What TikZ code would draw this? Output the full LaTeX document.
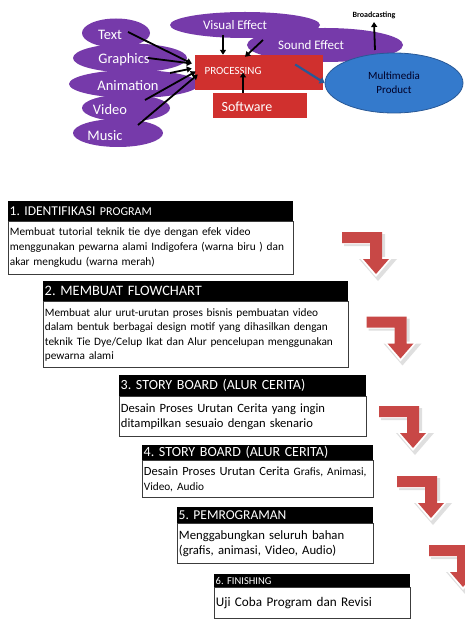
\documentclass[tikz,border=0pt]{standalone}
\usepackage{fontspec}
\setmainfont{Carlito}
\usetikzlibrary{shapes.geometric,arrows.meta,calc}
\frenchspacing
\definecolor{purp}{RGB}{118,58,170}
\definecolor{redbox}{RGB}{208,48,46}
\definecolor{blueell}{RGB}{52,122,204}
\definecolor{blueline}{RGB}{40,88,150}
\definecolor{arrred}{RGB}{200,72,70}
\definecolor{boxline}{RGB}{60,60,60}
\tikzset{
  pell/.style={ellipse, fill=purp, inner sep=0pt, text=white},
  rbox/.style={rectangle, fill=redbox, inner sep=0pt, text=white},
  blk/.style={line width=1.8pt, black, -{Triangle[length=5pt,width=6pt]}},
  hdr/.style={rectangle, fill=black, text=white, anchor=north west, inner xsep=1.5pt, inner ysep=0pt, align=left},
  bodybox/.style={rectangle, draw=boxline, line width=0.8pt, fill=white, anchor=north west, inner xsep=1.5pt, inner ysep=0pt, align=left},
  pics/bentarrow/.style={code={
    \fill[gray!25] (2,2) -- (43,2) -- (43,27) -- (55,27) -- (36,49) -- (17,27) -- (30,27) -- (30,14) -- (2,14) -- cycle;
    \fill[white] (0,0) -- (40,0) -- (40,25) -- (51,25) -- (34,45) -- (17,25) -- (28,25) -- (28,12) -- (0,12) -- cycle;
    \fill[arrred] (0,0) -- (40,0) -- (40,27) -- (47,27) -- (34,42) -- (21,27) -- (28,27) -- (28,11) -- (0,11) -- cycle;
  }}
}
\begin{document}
\begin{tikzpicture}[x=1pt,y=-1pt]
\useasboundingbox (0,0) rectangle (465,620);
% ---- top diagram ----
\node[pell, minimum width=150, minimum height=26, label={[text=white,font=\fontsize{13}{13}\selectfont,xshift=-10pt]center:Visual Effect}] (vis) at (245,25) {};
\node[pell, minimum width=156, minimum height=34, label={[text=white,font=\fontsize{13}{13}\selectfont,xshift=-14pt]center:Sound Effect}] (snd) at (325,45) {};
\node[pell, minimum width=68, minimum height=29, label={[text=white,font=\fontsize{14.5}{14.5}\selectfont,xshift=-6pt,yshift=-2pt]center:Text}] (txt) at (116,33) {};
\node[pell, minimum width=114, minimum height=29, label={[text=white,font=\fontsize{14.5}{14.5}\selectfont,xshift=-6pt,yshift=-2pt]center:Graphics}] (gra) at (130,58) {};
\node[pell, minimum width=130, minimum height=28, label={[text=white,font=\fontsize{14.5}{14.5}\selectfont,xshift=-6pt,yshift=-2pt]center:Animation}] (ani) at (134,84) {};
\node[pell, minimum width=88, minimum height=27, label={[text=white,font=\fontsize{14.5}{14.5}\selectfont,xshift=-16pt,yshift=-2pt]center:Video}] (vid) at (126,108) {};
\node[pell, minimum width=90, minimum height=28, label={[text=white,font=\fontsize{14.5}{14.5}\selectfont,xshift=-13pt,yshift=-3pt]center:Music}] (mus) at (118,133) {};
\node[rbox, minimum width=128, minimum height=35, label={[text=white,font=\fontsize{11}{11}\selectfont,xshift=-26pt,yshift=2pt]center:PROCESSING}] (proc) at (259,72.5) {};
\node[rbox, minimum width=94, minimum height=25, label={[text=white,font=\fontsize{14}{14}\selectfont,xshift=-13pt,yshift=-1pt]center:Software}] (soft) at (260,105.5) {};
\node[ellipse, fill=blueell, draw=blueline, line width=0.8pt, minimum width=138, minimum height=60, inner sep=0pt, align=center, font=\fontsize{11}{14}\selectfont, text=black!85!blue] (mm) at (394,83) {Multimedia\\Product};
\node[font=\bfseries\fontsize{8}{8}\selectfont] (brd) at (374,15) {Broadcasting};
% arrows
\draw[blk] ([shift={(12,-1)}]txt.center) -- ([shift={(-3,-9)}]proc.west);
\draw[blk] ([shift={(18,0)}]gra.center) -- ([shift={(-3,-9)}]proc.west);
\draw[blk] ([shift={(36,-11)}]ani.center) -- ([shift={(-3,-4)}]proc.west);
\draw[blk] ([shift={(19,-8)}]vid.center) -- ([shift={(1,-1)}]proc.west);
\draw[blk] ([shift={(20,-8)}]mus.center) -- ([shift={(3,2)}]proc.west);
\draw[blk] ([shift={(-22,10)}]vis.center) -- ([shift={(-36,0)}]proc.north);
\draw[blk] ([shift={(-62,-5)}]snd.center) -- ([shift={(-14,2)}]proc.north);
\draw[blk] ([shift={(-17,0)}]soft.north) -- ([shift={(-16,0)}]proc.center);
\draw[blk] ([shift={(50,5)}]snd.center) -- (brd.south);
\draw[line width=2.2pt, blueline, -{Triangle[length=5pt,width=7pt]}] ([shift={(-28,-8)}]proc.east) -- (mm.west);
% ---- step boxes ----
\node[hdr, text width=282, minimum height=19.5, font=\fontsize{13.5}{13.5}\selectfont] (h1) at (8,201) {1. IDENTIFIKASI {\fontsize{12}{12}\selectfont PROGRAM}};
\node[bodybox, text width=282, minimum height=53, font=\fontsize{11.3}{15}\selectfont] (b1) at (h1.south west) {Membuat tutorial teknik tie dye dengan efek video\\menggunakan pewarna alami Indigofera (warna biru ) dan\\akar mengkudu (warna merah)};
\node[hdr, text width=302, minimum height=20, font=\fontsize{14.4}{14.4}\selectfont] (h2) at (43,281) {2. MEMBUAT FLOWCHART};
\node[bodybox, text width=302, minimum height=66, font=\fontsize{11.3}{14.5}\selectfont] (b2) at (h2.south west) {Membuat alur urut-urutan proses bisnis pembuatan video\\dalam bentuk berbagai design motif yang dihasilkan dengan\\teknik Tie Dye/Celup Ikat dan Alur pencelupan menggunakan\\pewarna alami};
\node[hdr, text width=244, minimum height=21, font=\fontsize{14}{14}\selectfont] (h3) at (119,375) {3. STORY BOARD (ALUR CERITA)};
\node[bodybox, text width=244, minimum height=40, font=\fontsize{12.6}{14.5}\selectfont] (b3) at (h3.south west) {Desain Proses Urutan Cerita yang ingin\\ditampilkan sesuaio dengan skenario};
\node[hdr, text width=228, minimum height=15, font=\fontsize{14}{14}\selectfont] (h4) at (142,445) {4. STORY BOARD (ALUR CERITA)};
\node[bodybox, text width=228, minimum height=37, font=\fontsize{12.5}{14.5}\selectfont] (b4) at (h4.south west) {Desain Proses Urutan Cerita {\fontsize{11.3}{14.5}\selectfont Grafis, Animasi,}\\{\fontsize{11.3}{14.5}\selectfont Video, Audio}};
\node[hdr, text width=193, minimum height=16, font=\fontsize{13.5}{13.5}\selectfont] (h5) at (177,507) {5. PEMROGRAMAN};
\node[bodybox, text width=193, minimum height=40, font=\fontsize{12.7}{15}\selectfont] (b5) at (h5.south west) {Menggabungkan seluruh bahan\\(grafis, animasi, Video, Audio)};
\node[hdr, text width=193, minimum height=13, font=\fontsize{10.5}{10.5}\selectfont] (h6) at (214,574) {6. FINISHING};
\node[bodybox, text width=193, minimum height=31, font=\fontsize{13.2}{15}\selectfont] (b6) at (h6.south west) {Uji Coba Program dan Revisi};
% ---- bent arrows ----
\pic at (342,232) {bentarrow};
\pic at (366.5,316.5) {bentarrow};
\pic at (379,406) {bentarrow};
\pic at (397,476) {bentarrow};
\pic at (429,545) {bentarrow};
\end{tikzpicture}
\end{document}
